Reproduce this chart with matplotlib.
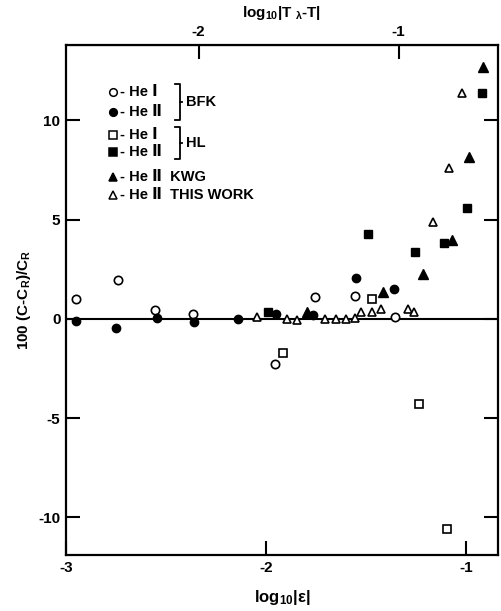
import numpy as np
import matplotlib
matplotlib.use("Agg")
import matplotlib.pyplot as plt

plt.rcParams['font.family'] = ['Liberation Sans', 'DejaVu Sans']
plt.rcParams['font.weight'] = 'bold'
plt.rcParams['axes.labelweight'] = 'bold'
plt.rcParams['mathtext.fontset'] = 'custom'
plt.rcParams['mathtext.rm'] = 'Liberation Sans:bold'
plt.rcParams['mathtext.it'] = 'Liberation Sans:bold'
plt.rcParams['mathtext.bf'] = 'Liberation Sans:bold'
plt.rcParams['mathtext.default'] = 'rm'

# log10|eps| -> 100 (C - C_R)/C_R
bfk_he1_x = [-2.95, -2.74, -2.555, -2.365, -1.955, -1.755, -1.555, -1.355]
bfk_he1_y = [1.0, 1.96, 0.45, 0.25, -2.26, 1.1, 1.15, 0.1]

bfk_he2_x = [-2.95, -2.75, -2.545, -2.36, -2.14, -1.95, -1.765, -1.55, -1.36]
bfk_he2_y = [-0.1, -0.45, 0.05, -0.15, 0.0, 0.25, 0.2, 2.06, 1.5]

hl_he1_x = [-1.915, -1.47, -1.235, -1.095]
hl_he1_y = [-1.7, 1.0, -4.3, -10.6]

hl_he2_x = [-1.99, -1.49, -1.255, -1.11, -0.995, -0.92]
hl_he2_y = [0.35, 4.3, 3.37, 3.8, 5.6, 11.4]

kwg_x = [-1.795, -1.415, -1.215, -1.07, -0.985, -0.915]
kwg_y = [0.35, 1.35, 2.26, 3.97, 8.14, 12.7]

this_x = [-2.045, -1.895, -1.845, -1.705, -1.65, -1.6, -1.555, -1.525, -1.47,
          -1.425, -1.29, -1.26, -1.165, -1.085, -1.02]
this_y = [0.1, 0.0, -0.05, 0.0, 0.0, 0.0, 0.05, 0.35, 0.35,
          0.5, 0.5, 0.35, 4.87, 7.6, 11.4]

# log10|T_lambda - T| = log10|eps| + log10(T_lambda)
t_offset = np.log10(2.172)

fig = plt.figure(figsize=(5.01, 6.11), dpi=100)
ax = fig.add_axes([66 / 501, 56 / 611, 432 / 501, 510 / 611])

ms = 6
mew = 1.2
ax.plot(bfk_he1_x, bfk_he1_y, 'o', ms=ms, mfc='white', mec='black', mew=mew, ls='none')
ax.plot(bfk_he2_x, bfk_he2_y, 'o', ms=ms, mfc='black', mec='black', ls='none')
ax.plot(hl_he1_x, hl_he1_y, 's', ms=ms - 0.5, mfc='white', mec='black', mew=mew, ls='none')
ax.plot(hl_he2_x, hl_he2_y, 's', ms=ms, mfc='black', mec='black', ls='none')
ax.plot(kwg_x, kwg_y, '^', ms=ms + 1, mfc='black', mec='black', ls='none')
ax.plot(this_x, this_y, '^', ms=ms, mfc='white', mec='black', mew=mew, ls='none')

ax.axhline(0, color='black', lw=1.5, zorder=0)

ax.set_xlim(-3, -0.84)
ax.set_ylim(-11.9, 13.8)
ax.set_xticks([-3, -2, -1])
ax.set_xticklabels(['-3', '-2', '-1'], fontweight='bold')
ax.set_yticks([-10, -5, 0, 5, 10])
ax.set_yticklabels(['-10', '-5', '0', '5', '10'], fontweight='bold')
ax.tick_params(direction='in', length=10, width=1.5, labelsize=11,
               right=True, pad=4)
for s in ax.spines.values():
    s.set_linewidth(1.6)

top = ax.secondary_xaxis('top', functions=(lambda x: x + t_offset,
                                           lambda x: x - t_offset))
top.set_xticks([-2, -1])
top.set_xticklabels(['-2', '-1'], fontweight='bold')
top.tick_params(direction='in', length=10, width=1.5, labelsize=11, pad=4)
top.set_xlabel(r'log$_{10}$|T $_\lambda$-T|', fontsize=11, labelpad=6,
               fontweight='bold')

ax.set_xlabel(r'log$_{10}$|ε|', fontsize=12, labelpad=10, fontweight='bold')
ax.set_ylabel(r'100 (C-C$_R$)/C$_R$', fontsize=11, labelpad=4,
              fontweight='bold')

# in-plot legend, positioned in axes fraction
def px(x, y):
    return ((x - 66) / 432, (555 - y) / 510)

rows = [
    (92, 'o', 'white', '- He Ⅰ'),
    (112, 'o', 'black', '- He Ⅱ'),
    (135, 's', 'white', '- He Ⅰ'),
    (152, 's', 'black', '- He Ⅱ'),
    (177, '^', 'black', '- He Ⅱ  KWG'),
    (195, '^', 'white', '- He Ⅱ  THIS WORK'),
]
for yy, m, fc, label in rows:
    mx, my = px(113, yy)
    ax.plot([mx], [my], m, ms=5.5, mfc=fc, mec='black', mew=1.1,
            transform=ax.transAxes, clip_on=False)
    tx, ty = px(120, yy)
    ax.text(tx, ty, label, transform=ax.transAxes, fontsize=10.5,
            va='center', ha='left', fontweight='bold')

# brackets
for y0, y1, lab in [(84, 120, 'BFK'), (127, 159, 'HL')]:
    x0, yy0 = px(175, y0)
    x1, yy1 = px(180, y1)
    ax.plot([x0, x1, x1, x0], [yy0, yy0, yy1, yy1], color='black', lw=1.3,
            transform=ax.transAxes)
    xm, ym = px(180, (y0 + y1) / 2)
    xn, _ = px(182, 0)
    ax.plot([xm, xn], [ym, ym], color='black', lw=1.3, transform=ax.transAxes)
    xt, _ = px(186, 0)
    ax.text(xt, ym, lab, transform=ax.transAxes, fontsize=10.5,
            va='center', ha='left', fontweight='bold')

fig.savefig('out.png', dpi=100)
